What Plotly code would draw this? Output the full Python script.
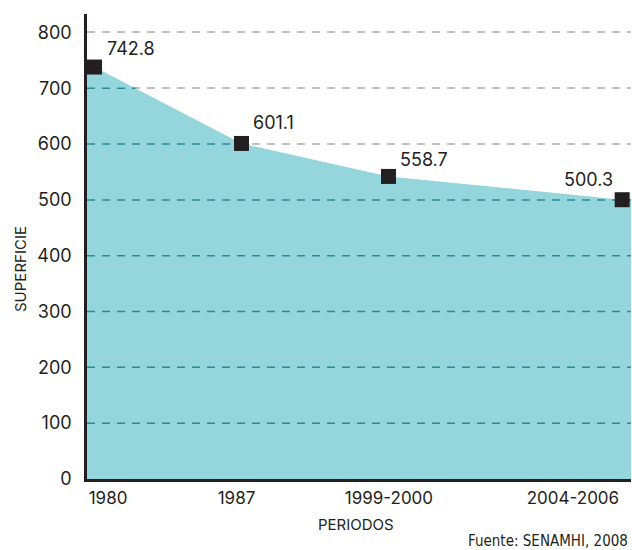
import numpy as np
import plotly.graph_objects as go

# datos
periodos = ["1980", "1987", "1999-2000", "2004-2006"]
superficie = [742.8, 601.1, 558.7, 500.3]          # valores rotulados
superficie_trazo = [738.0, 601.1, 542.0, 500.3]    # altura a la que aparecen dibujados
niveles_grilla = [100, 200, 300, 400, 500, 600, 700, 800]

# posicion horizontal de cada periodo (no es equidistante en el original)
pos_x = [0, 1, 2, 3.59]
pos_etiquetas = [0.092, 0.966, 2.003, 3.255]
rango_x = [-0.051, 3.65]
rango_y = [0, 833]

TINTA = "#231f20"
RELLENO = "#95d5dc"
GRIS = "#bfbfbf"
TEAL = "#2a8a95"
FUENTE = "Inter"

# margenes del area de trazado (px)
ML, MR, MT, MB = 87, 1, 14, 71
W, H = 632, 550
PW, PH = W - ML - MR, H - MT - MB


def px_a_paper(x, y):
    # convierte pixeles de la imagen a coordenadas "paper"
    return (x - ML) / PW, (H - y - MB) / PH


fig = go.Figure()

# area: se prolonga plana hasta los bordes del eje
x_area = [rango_x[0]] + pos_x + [rango_x[1]]
y_area = list(np.interp(x_area, pos_x, superficie_trazo))
fig.add_trace(go.Scatter(
    x=x_area, y=y_area, mode="lines", fill="tozeroy",
    fillcolor=RELLENO, line=dict(width=0), hoverinfo="skip",
))

# lineas punteadas oscuras sobre el area
y_inv = np.array(superficie_trazo[::-1])
x_inv = np.array(pos_x[::-1])
for g in niveles_grilla:
    if g <= min(superficie_trazo):
        x_fin = rango_x[1]
    elif g >= max(superficie_trazo):
        continue
    else:
        x_fin = float(np.interp(g, y_inv, x_inv))
    fig.add_trace(go.Scatter(
        x=[rango_x[0], x_fin], y=[g, g], mode="lines",
        line=dict(color=TEAL, width=1.5, dash="8px,7px"), hoverinfo="skip",
    ))

# marcadores
fig.add_trace(go.Scatter(
    x=pos_x, y=superficie_trazo, mode="markers",
    marker=dict(symbol="square", size=15, color=TINTA),
    cliponaxis=False, hoverinfo="skip",
))

# rotulos de valores
desplaz = [(10, 19), (10, 21), (10, 17), (-7, 20)]
for x, y, v, (dx, dy) in zip(pos_x, superficie_trazo, superficie, desplaz):
    fig.add_annotation(
        x=x, y=y, text=f"{v:.1f}", showarrow=False,
        xanchor="left" if dx > 0 else "right", xshift=dx, yshift=dy,
        font=dict(family=FUENTE, size=18, color=TINTA),
    )

xp, yp = px_a_paper(356, 524)
fig.add_annotation(
    x=xp, y=yp, xref="paper", yref="paper", text="PERIODOS", showarrow=False,
    xanchor="center", yanchor="middle", font=dict(family=FUENTE, size=15, color=TINTA),
)
xp, yp = px_a_paper(20, 269)
fig.add_annotation(
    x=xp, y=yp, xref="paper", yref="paper", text="SUPERFICIE", showarrow=False,
    textangle=-90, xanchor="center", yanchor="middle",
    font=dict(family=FUENTE, size=15, color=TINTA),
)
xp, yp = px_a_paper(630, 541)
fig.add_annotation(
    x=xp, y=yp, xref="paper", yref="paper", text="Fuente: SENAMHI, 2008",
    showarrow=False, xanchor="right", yanchor="middle",
    font=dict(family="DejaVu Sans Condensed, Roboto", size=15, color=TINTA),
)

fig.update_layout(
    width=W, height=H,
    margin=dict(l=ML, r=MR, t=MT, b=MB),
    paper_bgcolor="white", plot_bgcolor="white",
    showlegend=False,
    font=dict(family=FUENTE, color=TINTA),
    xaxis=dict(
        range=rango_x, tickvals=pos_etiquetas, ticktext=periodos,
        showgrid=False, zeroline=False, showline=True, automargin=False,
        linecolor=TINTA, linewidth=2.5, ticks="", ticklabelstandoff=2,
        tickfont=dict(size=17, color=TINTA),
    ),
    yaxis=dict(
        range=rango_y, tickvals=[0] + niveles_grilla,
        showgrid=True, gridcolor=GRIS, griddash="8px,7px", gridwidth=1.5,
        zeroline=False, showline=True, linecolor=TINTA, linewidth=2.5,
        ticks="", ticklabelstandoff=9, automargin=False,
        tickfont=dict(size=18, color=TINTA),
    ),
)

# quitar el margen por defecto del <body> para que la figura empiece en (0, 0)
fig.write_html(
    "out.html",
    config={"displayModeBar": False},
    post_script="document.body.style.margin='0';",
)
